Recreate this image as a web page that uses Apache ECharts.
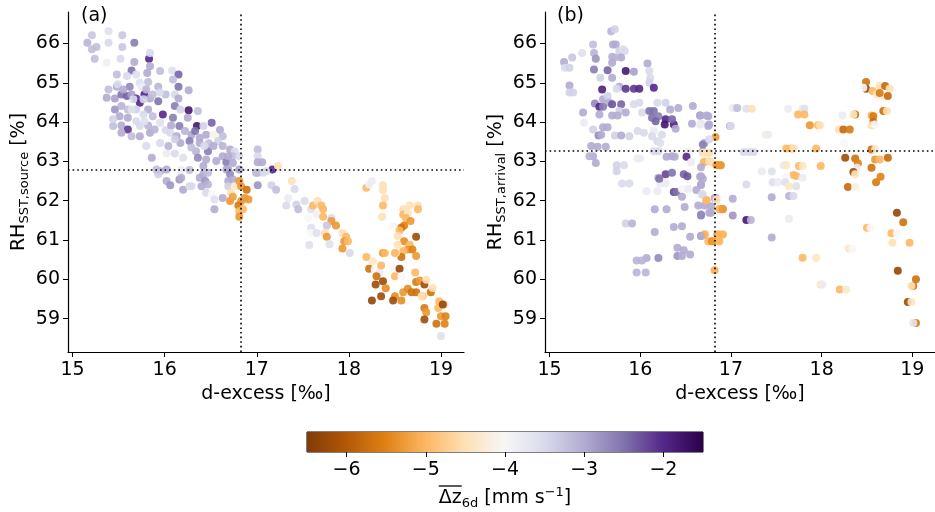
<!DOCTYPE html>
<html>
<head>
<meta charset="utf-8">
<script src="https://cdn.jsdelivr.net/npm/echarts@6/dist/echarts.min.js"></script>
<style>
  html, body { margin: 0; padding: 0; background: #fff; }
  #main { width: 935px; height: 512px; }
</style>
</head>
<body>
<div id="main"></div>
<script>
// [d-excess, RH, dz6d] for panel (a): RH at source
const panelA = [
  [15.21,66.21,-3.3],[15.39,66.31,-3.6],[15.54,66.21,-3.3],[15.16,66.02,-3.1],[15.26,65.91,-3.2],[15.21,65.85,-3.2],[15.39,66.02,-3.5],[15.54,65.91,-3.3],
  [15.67,66.02,-2.6],[15.24,65.61,-3.2],[15.37,65.51,-3.9],[15.52,65.61,-3.5],[15.67,65.53,-3.0],[15.83,65.61,-2.0],[15.84,65.42,-3.0],[15.64,65.31,-2.5],
  [15.48,65.21,-3.2],[15.69,65.21,-3.6],[15.81,65.25,-3.0],[16.08,65.31,-3.6],[16.15,65.21,-2.4],[16.09,65.08,-3.2],[15.82,65.02,-3.2],[15.73,65.00,-3.6],
  [15.48,64.90,-3.0],[15.62,64.90,-2.7],[15.93,64.90,-3.1],[16.15,64.90,-2.5],[16.26,64.81,-3.0],[15.46,64.60,-2.9],[15.53,64.70,-2.5],[15.59,64.66,-2.4],
  [15.64,64.70,-2.9],[15.69,64.60,-2.1],[15.78,64.70,-2.0],[15.84,64.60,-3.0],[15.93,64.53,-2.5],[16.01,64.70,-3.2],[16.11,64.70,-3.5],[16.15,64.60,-3.0],
  [15.73,64.49,-2.0],[15.60,64.32,-3.2],[15.46,64.32,-2.8],[15.51,64.15,-3.0],[15.69,64.32,-3.4],[15.82,64.32,-3.0],[15.98,64.19,-2.0],[16.11,64.41,-2.6],
  [16.09,64.11,-2.6],[16.17,64.32,-3.4],[16.26,64.30,-1.8],[16.36,64.28,-3.2],[16.25,64.11,-3.0],[15.44,63.90,-3.2],[15.53,63.91,-3.0],[15.60,63.81,-2.1],
  [15.73,63.90,-3.5],[15.82,63.91,-3.1],[15.73,63.64,-3.0],[15.84,63.73,-3.0],[16.01,63.80,-3.5],[16.07,63.91,-3.0],[16.16,63.90,-2.6],[16.29,63.68,-3.0],
  [16.35,63.90,-1.8],[16.33,63.77,-2.5],[16.42,63.90,-3.4],[16.51,63.98,-2.4],[16.60,63.80,-3.0],[16.45,63.68,-3.0],[16.53,63.68,-4.1],[16.63,63.64,-3.2],
  [16.17,63.47,-3.0],[16.27,63.52,-2.6],[16.38,63.47,-3.0],[16.48,63.46,-3.2],[16.47,63.26,-2.6],[16.58,63.52,-3.4],[16.71,63.30,-3.0],[16.76,63.26,-3.5],
  [15.80,63.39,-3.5],[15.86,63.09,-3.0],[16.02,63.20,-3.8],[16.11,63.20,-3.5],[16.20,63.09,-3.6],[16.34,63.26,-3.1],[16.36,63.09,-2.7],[16.45,63.05,-3.0],
  [16.63,63.13,-3.0],[16.67,62.98,-2.6],[16.74,63.13,-3.2],[15.95,62.75,-3.0],[15.93,62.67,-3.4],[16.18,62.78,-3.8],[16.27,62.78,-3.2],[16.42,62.67,-3.0],
  [16.47,62.71,-3.2],[16.69,62.79,-3.0],[16.81,62.79,-3.5],[17.01,63.30,-3.2],[17.01,63.13,-3.5],[17.01,62.98,-3.0],[17.06,62.98,-3.0],[17.17,62.79,-2.0],
  [17.23,62.88,-4.5],[17.01,62.71,-3.0],[17.07,62.71,-3.5],
  [15.49,64.96,-3.5],[15.55,64.83,-3.0],[15.75,64.90,-3.8],[15.80,64.83,-3.1],[15.87,64.70,-3.2],[15.95,64.75,-3.5],[15.66,64.58,-3.5],[15.77,64.58,-3.4],
  [15.53,64.41,-3.1],[15.64,64.32,-3.6],[15.77,64.19,-3.5],[15.87,64.15,-3.2],[15.60,64.11,-3.0],[15.69,64.02,-3.5],[15.78,64.02,-3.6],[15.95,63.98,-3.6],
  [15.89,63.81,-3.1],[16.06,63.73,-3.5],[16.13,63.64,-3.0],[16.22,63.77,-3.1],[16.38,63.60,-3.0],[16.43,63.39,-3.5],[16.53,63.39,-3.0],[16.29,63.35,-3.2],
  [16.63,63.39,-3.1],[16.69,63.13,-3.0],[16.56,63.01,-3.0],[16.42,62.88,-3.0],[15.84,65.76,-3.5],[15.95,65.30,-3.2],[15.59,65.17,-3.5],[15.37,64.62,-3.0],
  [15.39,64.83,-3.2],[15.44,64.07,-3.4],[15.53,63.73,-3.0],[15.64,63.64,-3.2],[15.95,63.47,-3.5],[16.04,63.39,-3.1],[16.11,63.56,-3.4],[16.81,63.13,-3.5],
  [16.74,62.96,-3.0],
  [15.91,62.79,-3.2],[16.02,62.50,-3.0],[16.06,62.39,-2.8],[16.16,62.54,-2.8],[16.18,62.58,-3.0],[16.29,62.37,-3.5],[16.38,62.58,-3.0],[16.44,62.50,-2.8],
  [16.47,62.41,-3.1],[16.40,62.37,-3.0],[16.45,62.20,-3.5],[16.51,62.16,-4.0],[16.54,62.03,-3.6],[16.54,61.78,-3.0],[16.63,62.07,-3.0],[16.67,62.79,-3.0],
  [16.71,62.67,-2.7],[16.69,62.50,-3.0],[16.74,62.54,-3.0],[16.69,62.37,-3.4],[16.72,62.20,-4.5],[16.71,61.99,-5.3],[16.76,62.37,-4.3],[16.81,62.50,-5.3],
  [16.83,62.37,-5.3],[16.89,62.28,-5.7],[16.87,62.07,-5.3],[16.91,62.03,-5.3],[16.83,61.99,-5.3],[16.80,61.88,-5.6],[16.85,61.78,-5.0],[16.81,61.73,-5.0],
  [16.81,61.59,-5.3],[16.74,62.10,-5.2],[16.81,62.79,-3.0],[16.99,62.71,-3.2],[17.01,62.39,-2.8],[17.10,62.75,-3.5],[17.38,62.50,-4.5],[17.16,62.39,-3.4],
  [17.21,62.28,-3.2],[17.41,62.30,-3.5],[17.34,62.07,-3.8],[17.32,61.88,-3.5],[17.43,61.90,-3.4],[17.45,61.78,-3.2],[17.52,61.99,-3.5],[17.56,61.56,-4.0],
  [16.20,62.28,-3.0],[16.27,62.37,-3.5],[16.02,62.79,-3.0],
  [17.59,61.78,-3.6],[17.61,61.88,-5.0],[17.66,61.99,-4.5],[17.70,61.88,-5.0],[17.72,61.78,-5.0],[17.65,61.65,-3.9],[17.72,61.59,-5.0],[17.81,61.56,-3.5],
  [17.81,61.48,-5.3],[17.86,61.37,-5.3],[17.76,61.37,-3.3],[17.59,61.31,-3.6],[17.59,61.18,-4.0],[17.65,61.18,-3.6],[17.74,61.18,-4.5],[17.76,61.08,-5.3],
  [17.57,60.87,-3.6],[17.79,60.89,-3.6],[17.93,61.18,-4.5],[17.97,61.08,-5.0],[17.95,60.97,-5.3],[17.93,60.78,-5.3],[17.99,60.97,-5.0],[18.01,60.67,-3.5],
  [18.19,62.33,-5.0],[18.22,62.41,-3.9],[18.25,62.50,-3.8],[18.37,62.39,-4.5],[18.37,62.27,-4.5],[18.39,62.07,-4.5],[18.37,61.88,-5.0],[18.36,61.59,-4.5],
  [18.59,61.78,-4.5],[18.66,61.88,-4.5],[18.75,61.88,-4.5],[18.75,61.78,-5.0],[18.59,61.65,-5.0],[18.64,61.69,-4.4],[18.62,61.56,-5.0],[18.67,61.48,-5.3],
  [18.60,61.37,-5.5],[18.57,61.31,-5.7],[18.48,61.35,-4.0],[18.55,61.24,-5.0],[18.53,61.10,-4.5],[18.73,61.08,-6.2],[18.60,60.97,-5.4],[18.53,60.88,-4.5],
  [18.66,60.88,-5.0],[18.64,60.76,-5.3],[18.69,60.76,-5.5],[18.59,60.72,-5.0],[18.73,60.59,-5.3],[18.57,60.57,-5.7],[18.51,60.67,-4.4],[18.50,60.67,-5.0],
  [18.37,60.67,-5.3],[18.39,60.67,-5.0],[18.19,60.57,-5.0],[18.26,60.46,-4.4],[18.22,60.27,-5.7],[18.28,60.25,-4.0],[18.33,60.16,-3.8],[18.35,60.35,-5.0],
  [18.30,60.08,-5.7],[18.29,59.87,-6.2],[18.37,59.95,-6.2],[18.40,59.77,-5.4],[18.48,60.29,-4.0],[18.50,60.08,-5.0],[18.55,60.27,-6.3],[18.57,60.08,-4.0],
  [18.50,59.57,-5.4],[18.57,59.46,-5.4],[18.48,59.46,-6.2],[18.25,59.46,-6.3],[18.35,59.57,-6.2],[18.59,59.67,-5.3],[18.64,59.76,-5.4],[18.68,59.67,-5.7],
  [18.73,59.67,-5.7],[18.73,59.93,-5.6],[18.72,60.17,-5.0],[18.77,59.97,-5.3],[18.82,59.87,-6.2],[18.84,59.99,-4.5],[18.83,59.66,-4.0],[18.89,59.67,-5.7],
  [18.91,59.78,-4.5],[18.80,59.57,-5.0],[18.79,59.57,-4.5],[18.98,59.44,-5.0],[19.04,59.36,-4.5],[18.82,59.27,-5.6],[18.84,59.16,-5.3],[18.82,58.98,-6.2],
  [18.97,59.27,-5.0],[19.00,59.06,-5.3],[19.05,59.06,-5.5],[18.95,58.87,-5.7],[19.04,58.87,-5.5],[19.00,58.56,-3.6],[19.02,59.36,-6.3]
];

// [d-excess, RH, dz6d] for panel (b): RH at arrival
const panelB = [
  [15.68,66.31,-3.1],[15.72,66.36,-3.4],[15.70,65.97,-3.0],[15.73,65.97,-3.0],[15.48,65.97,-3.2],[15.49,65.76,-3.1],[15.51,65.61,-2.8],[15.36,65.76,-3.6],
  [15.69,65.66,-3.1],[15.77,65.81,-3.4],[15.81,65.85,-3.6],[15.83,65.81,-3.5],[15.79,65.64,-3.0],[15.72,65.64,-3.1],[15.16,65.53,-3.0],[15.25,65.64,-3.3],
  [15.17,65.38,-3.5],[15.22,65.38,-3.4],[15.49,65.34,-2.6],[15.64,65.32,-2.4],[15.84,65.30,-1.8],[15.93,65.28,-2.9],[15.69,65.13,-3.0],[15.56,65.13,-3.4],
  [15.69,65.51,-3.0],[16.08,65.49,-3.0],[16.10,65.30,-3.5],[16.11,65.13,-3.5],[16.10,65.00,-3.4],[16.15,64.87,-2.0],[15.22,64.93,-3.0],[15.22,64.75,-3.4],
  [15.26,64.75,-3.4],[15.58,64.83,-1.9],[15.77,64.90,-3.0],[15.84,64.85,-2.1],[15.93,64.85,-2.1],[15.99,64.85,-2.0],[15.74,64.85,-3.5],[15.59,64.58,-3.0],
  [15.64,64.66,-3.4],[15.66,64.49,-3.0],[15.50,64.47,-2.7],[15.55,64.39,-2.0],[15.59,64.39,-2.6],[15.69,64.45,-2.3],[15.79,64.45,-2.4],[15.77,64.28,-3.4],
  [15.84,64.24,-3.0],[15.93,64.45,-3.5],[15.99,64.49,-3.5],[16.02,64.24,-3.5],[16.10,64.28,-2.5],[16.15,64.28,-2.5],[16.19,64.49,-3.5],[16.28,64.49,-3.4],
  [15.37,64.24,-3.0],[15.55,64.19,-3.0],[15.69,64.17,-3.0],[15.75,64.17,-3.0],[15.38,63.98,-3.8],[15.48,63.81,-3.4],[15.59,63.87,-3.0],[15.64,63.87,-3.0],
  [15.54,63.66,-2.7],[15.57,63.68,-3.0],[15.72,63.66,-3.4],[15.79,63.66,-3.0],[15.88,63.64,-3.4],[15.97,63.77,-3.5],[16.04,63.73,-3.5],[16.13,64.11,-2.5],
  [16.20,64.15,-2.6],[16.17,64.02,-2.4],[16.28,64.07,-2.0],[16.27,63.94,-1.8],[16.37,63.94,-1.9],[16.35,64.07,-2.4],[16.39,63.83,-3.0],[16.33,64.32,-3.0],
  [16.42,64.36,-3.0],[16.15,63.77,-3.8],[16.24,63.68,-3.5],[16.19,63.51,-3.5],[16.22,63.47,-3.6],[16.13,63.64,-3.5],[16.58,64.41,-3.0],[16.66,64.17,-2.8],
  [16.75,64.15,-3.0],[16.57,63.96,-3.0],[16.67,63.96,-3.7],[16.76,63.94,-3.0],[16.99,63.90,-3.0],[17.04,64.36,-3.8],[16.71,63.47,-3.0],[16.83,63.62,-5.3],
  [16.69,63.26,-3.0],[16.73,63.22,-4.5],[16.76,63.22,-4.4],[16.53,63.26,-3.9],[16.51,63.12,-2.0],[16.56,62.98,-3.8],[16.70,62.98,-5.0],[16.78,62.98,-4.5],
  [16.84,62.90,-5.3],[16.88,62.90,-5.4],[15.46,63.39,-3.0],[15.53,63.37,-3.0],[15.62,63.37,-3.0],[15.48,63.13,-3.0],[15.44,63.13,-3.1],[15.51,62.96,-3.0],
  [15.74,62.90,-3.4],[15.82,62.90,-3.5],[15.97,63.07,-3.8],[16.00,63.07,-3.8],[16.15,63.26,-3.5],[16.20,63.26,-3.5],[16.29,63.12,-3.0],[16.35,63.13,-3.0],
  [16.38,63.12,-3.0],[16.28,62.67,-2.2],[16.35,62.71,-2.5],[16.48,62.67,-2.4],[16.52,62.62,-2.3],[16.67,62.62,-3.0],[16.20,62.58,-3.0],[15.74,62.75,-3.4],
  [15.80,62.44,-3.5],[15.88,62.44,-3.5],[16.07,62.24,-3.8],[16.19,62.24,-3.8],[16.28,62.44,-3.8],[16.22,62.44,-3.8],[16.21,62.56,-2.5],[16.37,62.22,-2.2],
  [16.40,62.22,-2.5],[16.46,62.30,-4.0],[16.53,62.30,-3.8],[16.46,62.10,-3.0],[16.62,62.27,-3.0],[16.69,62.56,-3.0],[16.67,62.40,-3.0],[16.68,62.16,-3.5],
  [16.73,62.01,-5.0],[16.84,62.01,-4.5],[16.83,62.07,-2.8],[16.88,61.78,-5.3],[16.91,61.78,-5.3],[17.02,62.05,-3.0],[17.02,61.62,-2.8],[16.67,61.62,-2.6],
  [16.64,61.88,-3.0],[16.71,61.88,-3.0],[16.76,61.69,-3.0],[16.78,61.86,-3.0],[16.49,61.84,-3.0],[16.16,61.78,-3.0],[16.29,61.78,-3.0],[15.84,61.42,-3.4],
  [15.91,61.42,-3.1],[16.16,61.20,-3.0],[16.37,61.33,-3.0],[16.46,61.35,-3.0],[16.55,61.08,-3.0],[16.67,61.10,-2.7],[16.71,61.14,-5.3],[16.75,60.97,-5.0],
  [16.79,60.97,-5.4],[16.85,61.14,-5.3],[16.91,61.14,-5.0],[16.87,60.97,-5.0],[16.41,60.80,-3.0],[16.48,60.74,-3.0],[16.41,60.59,-2.8],[16.46,60.59,-3.0],
  [16.55,60.63,-3.0],[16.20,60.54,-2.7],[16.07,60.54,-3.0],[15.96,60.48,-3.1],[16.02,60.48,-3.1],[15.96,60.17,-3.1],[16.06,60.17,-3.1],[16.82,60.23,-5.1],
  [17.02,64.36,-3.8],[17.07,64.36,-3.2],[17.17,64.34,-3.6],[17.23,64.34,-4.5],[17.63,64.34,-3.8],[17.79,64.34,-3.8],[17.81,64.34,-3.6],[17.74,64.19,-5.0],
  [17.81,64.19,-5.0],[17.00,63.90,-3.5],[17.87,63.92,-5.3],[17.96,63.92,-5.0],[17.98,63.92,-4.5],[17.38,63.68,-4.2],[17.41,63.68,-3.8],[17.14,63.24,-3.5],
  [17.20,63.24,-3.5],[17.25,63.24,-3.5],[17.61,63.33,-5.0],[17.67,63.33,-5.0],[17.69,63.33,-4.5],[17.94,63.33,-5.0],[17.58,62.90,-3.8],[17.61,62.90,-4.4],
  [17.75,62.88,-5.0],[17.79,62.88,-4.4],[17.99,62.88,-5.0],[17.34,62.74,-3.8],[17.45,62.74,-3.6],[17.69,62.65,-5.0],[17.72,62.63,-5.0],[17.79,62.58,-3.8],
  [17.61,62.61,-4.0],[17.46,62.47,-3.6],[17.52,62.47,-3.8],[17.60,62.47,-3.6],[17.64,62.37,-4.4],[17.72,62.37,-3.6],[17.17,62.41,-3.5],[17.45,62.09,-3.0],
  [17.64,62.12,-3.1],[17.69,62.12,-3.5],[17.17,61.51,-1.8],[17.22,61.51,-3.1],[17.64,61.54,-3.8],[17.45,61.06,-3.0],[17.79,60.55,-5.0],[17.94,60.55,-4.4],
  [17.99,59.87,-4.5],[18.01,59.87,-3.8],[18.20,59.74,-5.0],[18.27,59.74,-4.3],[18.30,60.78,-4.4],[18.34,60.78,-4.0],[18.50,61.31,-5.0],[18.54,61.31,-4.0],
  [18.23,64.17,-3.8],[18.37,64.19,-5.7],[18.35,64.19,-4.4],[18.19,63.81,-4.5],[18.24,63.81,-5.8],[18.31,63.81,-5.6],[18.25,63.46,-4.0],[18.49,65.02,-5.7],
  [18.49,64.85,-6.3],[18.46,64.87,-4.0],[18.56,64.79,-5.0],[18.61,64.70,-4.4],[18.64,64.92,-4.5],[18.67,64.66,-4.3],[18.70,64.92,-5.8],[18.75,64.85,-4.5],
  [18.73,64.66,-5.8],[18.64,64.74,-5.6],[18.68,64.28,-5.7],[18.72,64.28,-4.5],[18.55,64.17,-5.0],[18.57,64.15,-5.6],[18.57,64.00,-5.8],[18.55,63.92,-4.5],
  [18.59,63.94,-4.0],[18.55,63.30,-5.7],[18.59,63.30,-4.4],[18.26,63.09,-6.2],[18.37,63.07,-5.7],[18.40,62.95,-5.5],[18.39,62.84,-3.8],[18.35,62.73,-6.2],
  [18.37,62.67,-4.4],[18.59,63.05,-5.3],[18.64,63.05,-5.0],[18.73,63.09,-5.8],[18.55,62.84,-5.7],[18.65,62.61,-5.5],[18.60,62.47,-5.6],[18.29,62.35,-5.8],
  [18.37,62.35,-4.2],[18.83,61.69,-6.3],[18.90,61.45,-5.7],[18.77,61.17,-5.0],[18.83,61.17,-4.0],[18.78,60.93,-4.5],[18.97,60.93,-5.0],[18.84,60.22,-6.3],
  [19.04,60.00,-5.7],[19.01,59.83,-5.7],[18.99,59.83,-4.5],[18.95,59.42,-6.2],[18.99,59.42,-4.4],[19.04,58.89,-5.6],[19.01,58.89,-3.7],
  [16.66,64.17,-3.0],[16.73,64.17,-3.0],[16.75,63.90,-3.0],[16.66,63.94,-3.8],[16.69,63.43,-2.6],[16.76,63.56,-3.5],[16.69,63.22,-4.4],[16.76,63.22,-4.5],
  [16.71,62.99,-5.0],[16.76,63.01,-4.5],[16.86,62.90,-5.3],[16.89,62.90,-5.3],[16.67,62.85,-3.0],[16.66,62.61,-3.0],[16.67,62.41,-3.0],[16.69,62.16,-3.5],
  [16.82,62.07,-3.0],[16.84,62.03,-4.5],[16.73,62.01,-5.0],[16.87,61.79,-5.0],[16.91,61.79,-5.3],[16.67,61.65,-2.7],[16.78,61.69,-3.0],[16.71,61.14,-5.0],
  [16.87,61.14,-5.0],[16.91,61.14,-5.0],[16.80,60.97,-5.3],[16.87,60.97,-5.0],[16.67,61.10,-3.0]
];

// dotted reference lines: [d-excess, RH]
const refA = [16.83, 62.78];
const refB = [16.82, 63.28];

const xTicks = [15, 16, 17, 18, 19];
const yTicks = [59, 60, 61, 62, 63, 64, 65, 66];
const cbTicks = [-6, -5, -4, -3, -2];
const cbRange = [-6.5, -1.5];

// PuOr colormap, low (orange) to high (purple)
const puor = ['#7f3b08', '#b35806', '#e08214', '#fdb863', '#fee0b6', '#f7f7f7',
              '#d8daeb', '#b2abd2', '#8073ac', '#542788', '#2d004b'];

const chart = echarts.init(document.getElementById('main'));
const font = '"DejaVu Sans"';
const fs = 19, fsSub = 13;
const txt = { fontFamily: font, fontSize: fs, color: '#000' };
const rich = {
  n: { fontFamily: font, fontSize: fs, color: '#000', lineHeight: 24 },
  s: { fontFamily: font, fontSize: fsSub, color: '#000', lineHeight: 24, padding: [11, 0, 0, 0] },
  p: { fontFamily: font, fontSize: fsSub, color: '#000', lineHeight: 24, padding: [0, 0, 10, 0] }
};

function xAx(gi) {
  return {
    type: 'value', gridIndex: gi, min: 14.95, max: 19.25,
    axisLine: { lineStyle: { color: '#000', width: 1.2 } },
    axisTick: { length: 5, customValues: xTicks, lineStyle: { color: '#000' } },
    axisLabel: Object.assign({ customValues: xTicks, margin: 9 }, txt),
    splitLine: { show: false },
    name: 'd-excess [‰]', nameLocation: 'middle', nameGap: 33,
    nameTextStyle: txt
  };
}
function yAx(gi, sub) {
  return {
    type: 'value', gridIndex: gi, min: 58.15, max: 66.8,
    axisLine: { show: true, lineStyle: { color: '#000', width: 1.2 } },
    axisTick: { show: true, length: 5, customValues: yTicks, lineStyle: { color: '#000' } },
    axisLabel: Object.assign({ customValues: yTicks, margin: 8 }, txt),
    splitLine: { show: false },
    name: '{n|RH}{s|SST,' + sub + '}{n| [%]}',
    nameLocation: 'middle', nameGap: 37, nameRotate: 90,
    nameTextStyle: { rich: rich }
  };
}
function scat(gi, data, ref) {
  return {
    type: 'scatter', xAxisIndex: gi, yAxisIndex: gi, data: data,
    symbolSize: 8, itemStyle: { opacity: 0.9 },
    markLine: {
      silent: true, symbol: ['none', 'none'], label: { show: false },
      lineStyle: { color: '#000', type: [1.6, 3], width: 1.6 },
      data: [{ xAxis: ref[0] }, { yAxis: ref[1] }]
    }
  };
}

// place the overline above "Δz" of the colour bar title
const ctx = document.createElement('canvas').getContext('2d');
function w(s, size) { ctx.font = size + 'px ' + font; return ctx.measureText(s).width; }
const wBar = w('\u0394z', fs);
const wTitle = wBar + w('6d', fsSub) + w(' [mm s', fs) + w('\u22121', fsSub) + w(']', fs);
const cbCenter = 307 + 396 / 2;
const olX = cbCenter - wTitle / 2;

chart.setOption({
  animation: false,
  backgroundColor: '#fff',
  grid: [
    { left: 68, top: 12, width: 396, height: 340 },
    { left: 545, top: 12, width: 396, height: 340 },
    { left: 307, top: 432, width: 396, height: 20, show: true, borderColor: '#000', borderWidth: 1, backgroundColor: 'transparent' }
  ],
  xAxis: [
    xAx(0), xAx(1),
    {
      type: 'value', gridIndex: 2, min: cbRange[0], max: cbRange[1],
      axisLine: { show: false },
      axisTick: { length: 5, customValues: cbTicks, lineStyle: { color: '#000' } },
      axisLabel: Object.assign({ customValues: cbTicks, margin: 9,
        formatter: v => String(v).replace('-', '\u2212') }, txt),
      splitLine: { show: false },
      name: '{n|\u0394z}{s|6d}{n| [mm s}{p|\u22121}{n|]}',
      nameLocation: 'middle', nameGap: 34,
      nameTextStyle: { rich: rich }
    }
  ],
  yAxis: [
    yAx(0, 'source'), yAx(1, 'arrival'),
    { type: 'value', gridIndex: 2, min: 0, max: 1, show: false }
  ],
  visualMap: {
    type: 'continuous', show: false, seriesIndex: [0, 1], dimension: 2,
    min: cbRange[0], max: cbRange[1], inRange: { color: puor }
  },
  series: [
    scat(0, panelA, refA),
    scat(1, panelB, refB),
    {
      type: 'custom', xAxisIndex: 2, yAxisIndex: 2, silent: true,
      data: [[cbRange[0], cbRange[1]]],
      renderItem: function (params, api) {
        const p0 = api.coord([api.value(0), 1]);
        const p1 = api.coord([api.value(1), 0]);
        return {
          type: 'rect',
          shape: { x: p0[0], y: p0[1], width: p1[0] - p0[0], height: p1[1] - p0[1] },
          style: {
            fill: new echarts.graphic.LinearGradient(0, 0, 1, 0,
              puor.map((c, i) => ({ offset: i / (puor.length - 1), color: c })))
          }
        };
      }
    }
  ],
  graphic: [
    { type: 'text', left: 81, top: 7, style: { text: '(a)', fontFamily: font, fontSize: fs, fill: '#000' } },
    { type: 'text', left: 557, top: 7, style: { text: '(b)', fontFamily: font, fontSize: fs, fill: '#000' } },
    { type: 'line', shape: { x1: olX, y1: 486, x2: olX + wBar, y2: 486 }, style: { stroke: '#000', lineWidth: 1.3 } }
  ]
});
</script>
</body>
</html>
